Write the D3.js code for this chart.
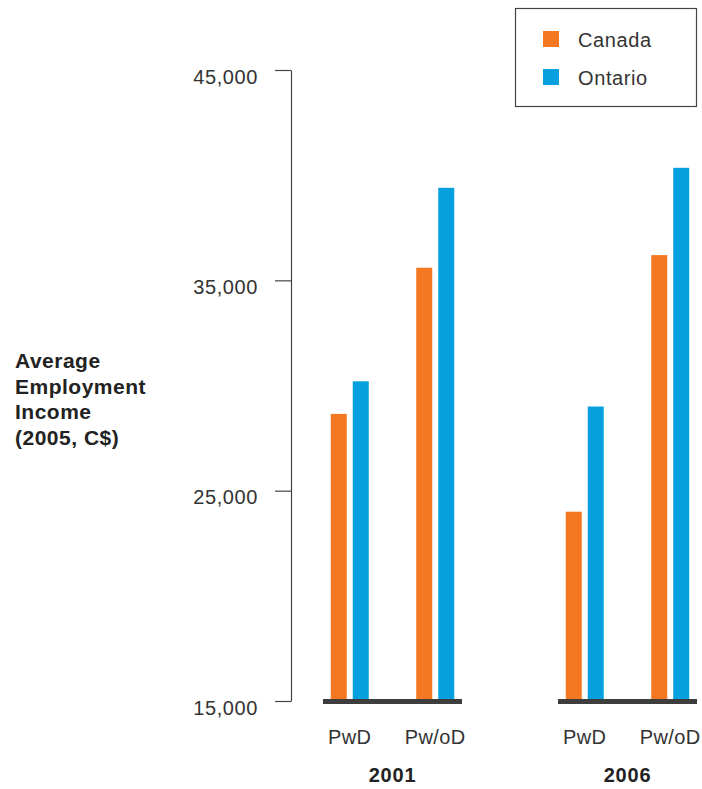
<!DOCTYPE html>
<html>
<head>
<meta charset="utf-8">
<script src="https://cdn.jsdelivr.net/npm/d3@7"></script>
<style>
  html, body { margin: 0; padding: 0; background: #fff; }
  svg { display: block; font-family: "Liberation Sans", Arial, sans-serif; }
</style>
</head>
<body>
<svg id="chart" width="702" height="789"></svg>
<script>
const years = ["2001", "2006"];
const categories = ["PwD", "Pw/oD"];
const series = ["Canada", "Ontario"];
const canadaValues = [28650, 35600, 24000, 36200];   // 2001 PwD, 2001 Pw/oD, 2006 PwD, 2006 Pw/oD
const ontarioValues = [30200, 39400, 29000, 40350];
const yTicks = [15000, 25000, 35000, 45000];
const yTitleLines = ["Average", "Employment", "Income", "(2005, C$)"];
const colors = { Canada: "#F47721", Ontario: "#05A0DD" };

const data = [];
years.forEach((yr, i) => {
  categories.forEach((cat, j) => {
    const k = i * categories.length + j;
    data.push({ year: yr, cat: cat, series: "Canada", value: canadaValues[k] });
    data.push({ year: yr, cat: cat, series: "Ontario", value: ontarioValues[k] });
  });
});

const svg = d3.select("#chart");

const y = d3.scaleLinear().domain([15000, 45000]).range([701, 70]);
const x0 = d3.scaleBand().domain(years).range([323, 697]).paddingInner(96 / 235).paddingOuter(0);
const x1 = d3.scalePoint().domain(categories).range([0, x0.bandwidth()]).padding(0.313);
const x2 = d3.scaleBand().domain(series).range([-19, 19]).paddingInner(6 / 22).paddingOuter(0);

// Y axis
const yAxis = d3.axisLeft(y)
  .tickValues(yTicks)
  .tickSize(16)
  .tickSizeOuter(0)
  .tickPadding(17)
  .tickFormat(d3.format(","));
const gy = svg.append("g").attr("transform", "translate(291,0)").call(yAxis);
gy.select(".domain").attr("stroke", "#444").attr("stroke-width", 1.2);
gy.selectAll(".tick line").attr("stroke", "#444").attr("stroke-width", 1.2);
gy.selectAll(".tick text")
  .attr("font-size", 20)
  .attr("letter-spacing", "0.6px")
  .attr("fill", "#333")
  .attr("dy", "0.66em")
  .attr("font-family", "Liberation Sans, Arial, sans-serif");

// Bars
svg.append("g").selectAll("rect")
  .data(data)
  .join("rect")
  .attr("x", d => x0(d.year) + x1(d.cat) + x2(d.series))
  .attr("width", x2.bandwidth())
  .attr("y", d => y(d.value))
  .attr("height", d => y(15000) - y(d.value))
  .attr("fill", d => colors[d.series]);

// Baselines per year group
svg.append("g").selectAll("line")
  .data(years)
  .join("line")
  .attr("x1", d => x0(d))
  .attr("x2", d => x0(d) + x0.bandwidth())
  .attr("y1", y(15000) + 0.5)
  .attr("y2", y(15000) + 0.5)
  .attr("stroke", "#3d3d3d")
  .attr("stroke-width", 5);

// Category labels
const catLabels = [];
years.forEach(yr => categories.forEach(c => catLabels.push({ year: yr, cat: c })));
svg.append("g").selectAll("text")
  .data(catLabels)
  .join("text")
  .attr("x", d => x0(d.year) + x1(d.cat))
  .attr("y", 744)
  .attr("text-anchor", "middle")
  .attr("font-size", 20)
  .attr("letter-spacing", "0.4px")
  .attr("fill", "#333")
  .text(d => d.cat);

// Year labels
svg.append("g").selectAll("text")
  .data(years)
  .join("text")
  .attr("x", d => x0(d) + x0.bandwidth() / 2)
  .attr("y", 782)
  .attr("text-anchor", "middle")
  .attr("font-size", 20)
  .attr("letter-spacing", "0.8px")
  .attr("font-weight", "bold")
  .attr("fill", "#222")
  .text(d => d);

// Y title
const yt = svg.append("text")
  .attr("x", 15)
  .attr("font-size", 21)
  .attr("letter-spacing", "0.5px")
  .attr("font-weight", "bold")
  .attr("fill", "#222");
yt.selectAll("tspan")
  .data(yTitleLines)
  .join("tspan")
  .attr("x", 15)
  .attr("y", (d, i) => 368 + i * 25.5)
  .text(d => d);

// Legend
const lg = svg.append("g");
lg.append("rect")
  .attr("x", 515.5).attr("y", 8.5)
  .attr("width", 181).attr("height", 98)
  .attr("fill", "#fff")
  .attr("stroke", "#444")
  .attr("stroke-width", 1.2);
const li = lg.selectAll("g.item")
  .data(series)
  .join("g")
  .attr("class", "item")
  .attr("transform", (d, i) => `translate(543,${31 + i * 38})`);
li.append("rect")
  .attr("width", 16).attr("height", 16)
  .attr("fill", d => colors[d]);
li.append("text")
  .attr("x", 35)
  .attr("y", 15.5)
  .attr("font-size", 20)
  .attr("letter-spacing", "0.6px")
  .attr("fill", "#333")
  .text(d => d);
</script>
</body>
</html>
